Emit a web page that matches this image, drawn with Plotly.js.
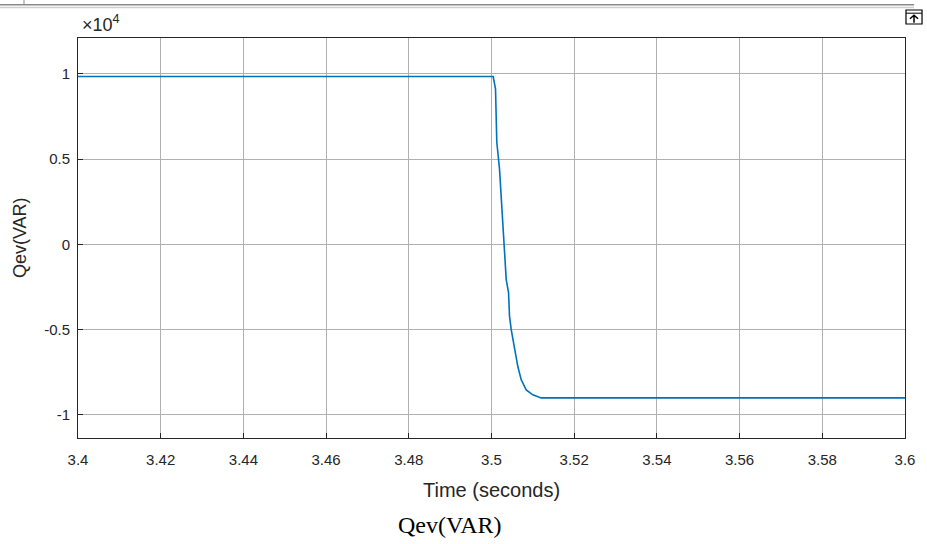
<!DOCTYPE html>
<html>
<head>
<meta charset="utf-8">
<script src="https://cdn.plot.ly/plotly-3.0.1.min.js"></script>
<style>html,body{margin:0;padding:0;background:#fff;}#plot{width:927px;height:544px;}</style>
</head>
<body>
<div id="plot"></div>
<script>
// Data
const time = [3.4, 3.5004, 3.50097, 3.50128, 3.50194, 3.5025, 3.50274, 3.50308, 3.50356, 3.50412, 3.50436, 3.50477, 3.50516, 3.50564, 3.50637, 3.50719, 3.5084, 3.51, 3.512, 3.6];
const qev = [9840, 9840, 9120, 6000, 4410, 2250, 710, -470, -2060, -2820, -4220, -5000, -5590, -6180, -7160, -7940, -8530, -8820, -9000, -9000];
const xTicks = [3.4, 3.42, 3.44, 3.46, 3.48, 3.5, 3.52, 3.54, 3.56, 3.58, 3.6];
const xTickText = ['3.4', '3.42', '3.44', '3.46', '3.48', '3.5', '3.52', '3.54', '3.56', '3.58', '3.6'];
const yTicks = [-10000, -5000, 0, 5000, 10000];
const yTickText = ['-1', '-0.5', '0', '0.5', '1'];

const tickFont = {family: 'Liberation Sans, Arial, sans-serif', size: 15, color: '#262626'};
const axisCommon = {
  showline: true, mirror: true, linecolor: '#262626', linewidth: 1,
  ticks: 'inside', ticklen: 5, tickcolor: '#262626',
  showgrid: true, gridcolor: '#b0b0b0', gridwidth: 1,
  zeroline: false, tickfont: tickFont
};

const trace = {
  x: time, y: qev, type: 'scatter', mode: 'lines',
  line: {color: '#0072BD', width: 1.6}, hoverinfo: 'skip'
};

const layout = {
  width: 927, height: 544, autosize: false,
  margin: {l: 78, r: 22, t: 38, b: 106},
  paper_bgcolor: '#ffffff', plot_bgcolor: '#ffffff',
  showlegend: false,
  xaxis: Object.assign({}, axisCommon, {
    range: [3.4, 3.6], tickmode: 'array', tickvals: xTicks, ticktext: xTickText,
    ticklabelstandoff: 8
  }),
  yaxis: Object.assign({}, axisCommon, {
    range: [-11350, 12100], tickmode: 'array', tickvals: yTicks, ticktext: yTickText,
    ticklabelstandoff: 4
  }),
  annotations: [
    {xref: 'paper', yref: 'paper', x: 0.002, y: 1.0, xanchor: 'left', yanchor: 'bottom', yshift: 1,
     text: '×10<sup>4</sup>', showarrow: false, font: {family: 'Liberation Sans, Arial, sans-serif', size: 18, color: '#262626'}},
    {xref: 'paper', yref: 'paper', x: 0.5, y: -0.13, xanchor: 'center', yanchor: 'middle',
     text: 'Time (seconds)', showarrow: false, font: {family: 'Liberation Sans, Arial, sans-serif', size: 20, color: '#262626'}},
    {xref: 'paper', yref: 'paper', x: -0.070, y: 0.5, xanchor: 'center', yanchor: 'middle', textangle: -90,
     text: 'Qev(VAR)', showarrow: false, font: {family: 'Liberation Sans, Arial, sans-serif', size: 18, color: '#262626'}},
    {xref: 'paper', yref: 'paper', x: 0.45, y: -0.218, xanchor: 'center', yanchor: 'middle',
     text: 'Qev(VAR)', showarrow: false, font: {family: 'Liberation Serif, Times New Roman, serif', size: 24, color: '#000000'}}
  ],
  shapes: [
    {type: 'line', xref: 'paper', yref: 'paper', x0: -0.1, x1: 1.011, y0: 1.083, y1: 1.083, line: {color: '#8a8a8a', width: 1.5}},
    {type: 'line', xref: 'paper', yref: 'paper', x0: -0.1, x1: 1.011, y0: 1.076, y1: 1.076, line: {color: '#d0d0d0', width: 1.5}},
    {type: 'line', xref: 'paper', yref: 'paper', x0: -0.0653, x1: -0.0653, y0: 1.083, y1: 1.1, line: {color: '#8a8a8a', width: 1}},
    {type: 'rect', xref: 'paper', yref: 'paper', x0: 1.0012, x1: 1.0206, y0: 1.035, y1: 1.07, line: {color: '#000000', width: 1.2}, fillcolor: '#ffffff'},
    {type: 'line', xref: 'paper', yref: 'paper', x0: 1.0012, x1: 1.0206, y0: 1.062, y1: 1.062, line: {color: '#000000', width: 1}},
    {type: 'path', xref: 'paper', yref: 'paper', path: 'M 1.0109 1.038 L 1.0109 1.057 M 1.0060 1.048 L 1.0109 1.057 L 1.0158 1.048', line: {color: '#000000', width: 1.5}}
  ]
};

Plotly.newPlot('plot', [trace], layout, {staticPlot: true, displayModeBar: false});
</script>
</body>
</html>
